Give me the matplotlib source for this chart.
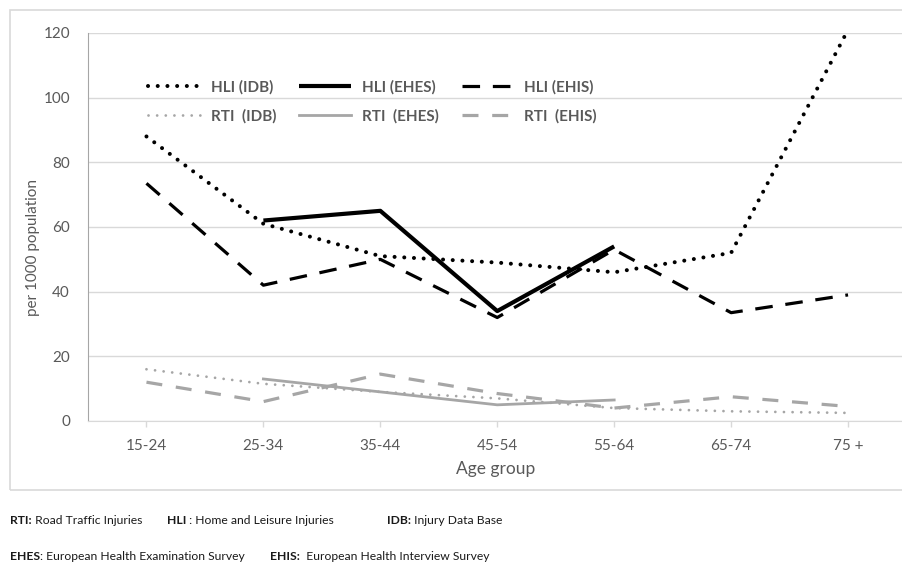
import matplotlib
matplotlib.use("Agg")
import matplotlib.pyplot as plt
from matplotlib.patches import Rectangle

plt.rcParams['font.family'] = ['Lato', 'DejaVu Sans']

age_groups = ["15-24", "25-34", "35-44", "45-54", "55-64", "65-74", "75 +"]
hli_idb = [88, 61, 51, 49, 46, 52, 121]
hli_ehes = [None, 62, 65, 34, 54, None, None]
hli_ehis = [73.5, 42, 50, 32, 53, 33.5, 39]
rti_idb = [16, 11.5, 9, 7, 4, 3, 2.5]
rti_ehes = [None, 13, 9, 5, 6.5, None, None]
rti_ehis = [12, 6, 14.5, 8.5, 4, 7.5, 4.5]
yticks = [0, 20, 40, 60, 80, 100, 120]

W, H = 903, 570
fig = plt.figure(figsize=(W / 100, H / 100), dpi=100)
fig.patch.set_facecolor('white')

# outer chart border
fig.add_artist(Rectangle((10 / W, 1 - 490 / H), 1.2, (490 - 10) / H,
                         transform=fig.transFigure, fill=False,
                         edgecolor='#d9d9d9', linewidth=1.2))

ax = fig.add_axes([88 / W, 1 - 421 / H, 1 - 88 / W, (421 - 33) / H])
x = list(range(len(age_groups)))

def pts(vals):
    xs = [i for i, v in zip(x, vals) if v is not None]
    ys = [v for v in vals if v is not None]
    return xs, ys

black = '#000000'
gray = '#a6a6a6'

l1, = ax.plot(*pts(hli_idb), color=black, lw=2.9, linestyle=(0, (0.01, 2.4)),
              dash_capstyle='round', label='HLI (IDB)')
l2, = ax.plot(*pts(hli_ehes), color=black, lw=3.0, solid_capstyle='butt',
              label='HLI (EHES)')
l3, = ax.plot(*pts(hli_ehis), color=black, lw=2.3, linestyle=(0, (5.5, 4.0)),
              label='HLI (EHIS)')
l4, = ax.plot(*pts(rti_idb), color=gray, lw=2.0, linestyle=(0, (0.01, 3.1)),
              dash_capstyle='round', label='RTI  (IDB)')
l5, = ax.plot(*pts(rti_ehes), color=gray, lw=2.0, label='RTI  (EHES)')
l6, = ax.plot(*pts(rti_ehis), color=gray, lw=2.3, linestyle=(0, (5.0, 4.3)),
              label='RTI  (EHIS)')

ax.set_xlim(-0.5, 6.47)
ax.set_ylim(0, 120)
ax.set_yticks(yticks)
ax.set_xticks(x)
ax.set_xticklabels(age_groups)
ax.grid(axis='y', color='#d9d9d9', lw=1)
ax.set_axisbelow(True)
for s in ['top', 'right']:
    ax.spines[s].set_visible(False)
ax.spines['left'].set_color('#a6a6a6')
ax.spines['bottom'].set_color('#d9d9d9')
ax.tick_params(axis='y', length=0, pad=13, labelsize=11, labelcolor='#595959')
ax.tick_params(axis='x', length=4, width=1, color='#d9d9d9', pad=9,
               labelsize=11, labelcolor='#595959')
ax.set_xlabel('Age group', fontsize=12.5, color='#595959', labelpad=6)
fig.text(33 / W, 1 - 247 / H, 'per 1000 population', rotation=90,
         ha='center', va='center', fontsize=11, color='#595959')

handles = [l1, l4, l2, l5, l3, l6]
leg = ax.legend(handles=handles, labels=[h.get_label() for h in handles],
                ncol=3, frameon=False, fontsize=11, labelcolor='#595959',
                handlelength=3.4, handletextpad=0.7, columnspacing=1.5,
                labelspacing=0.95, loc='upper left',
                bbox_to_anchor=(142 / W, 1 - 74 / H),
                bbox_transform=fig.transFigure, borderaxespad=0)
for t in leg.get_texts():
    t.set_fontweight('bold')

# footnotes
fig.canvas.draw()
renderer = fig.canvas.get_renderer()

def note(xpx, ypx, bold, rest):
    t = fig.text(xpx / W, 1 - ypx / H, bold, fontsize=8.7, fontweight='bold',
                 color='#1a1a1a', va='center', ha='left')
    bb = t.get_window_extent(renderer=renderer)
    fig.text(bb.x1 / W, 1 - ypx / H, rest, fontsize=8.7, color='#1a1a1a',
             va='center', ha='left')

note(10, 520, 'RTI:', ' Road Traffic Injuries')
note(167, 520, 'HLI', ' : Home and Leisure Injuries')
note(387, 520, 'IDB:', ' Injury Data Base')
note(10, 557, 'EHES', ': European Health Examination Survey')
note(270, 557, 'EHIS:', '  European Health Interview Survey')

fig.savefig('out.png', dpi=100, facecolor='white')
